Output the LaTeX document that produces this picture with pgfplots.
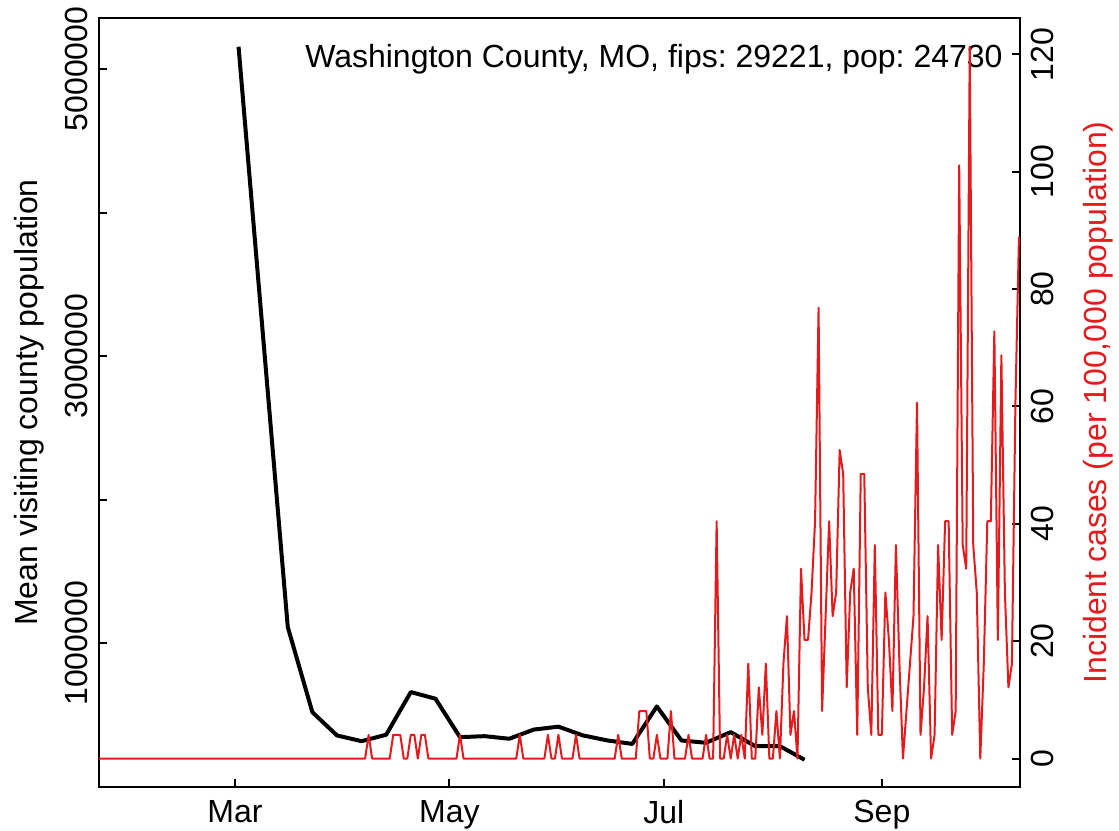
\documentclass[border=0pt]{standalone}
\usepackage{pgfplots}
\pgfplotsset{compat=1.18}
\usepackage{fontspec}
\setmainfont{Liberation Sans}
\definecolor{rred}{HTML}{E41A1C}
\frenchspacing
\begin{document}
\fontsize{16pt}{19pt}\selectfont
\begin{tikzpicture}
\begin{axis}[
  scale only axis, width=460.5pt, height=384.5pt,
  at={(0,0)}, anchor=south west,
  xmin=-38.7, xmax=223.3, ymin=0, ymax=5.355e6,
  axis line style={line width=1pt},
  every tick/.style={line width=1pt, black},
  tick align=inside, major tick length=4pt,
  tick pos=left,
  xtick={0,61,122,184}, xticklabels={Mar,May,Jul,Sep},
  ytick={1000000,2000000,3000000,4000000,5000000},
  yticklabels={1000000,,3000000,,5000000},
  yticklabel style={rotate=90, anchor=south},
  xticklabel style={yshift=-1pt},
  scaled y ticks=false,
  ylabel={Mean visiting county population},
  ylabel style={at={(axis description cs:-0.067,0.5)}, anchor=base},
  clip=true,
]
\addplot[black, line width=2pt, line join=round] coordinates {
(1,5155000) (8,3130000) (15,1114000) (22,521000) (29,359000) (36,319000)
(43,364000) (50,661000) (57,615000) (64,347000) (71,354000) (78,336000)
(85,400000) (92,420000) (99,359000) (106,324000) (113,300000) (120,561000)
(127,324000) (134,308000) (141,382000) (148,284000) (155,284000) (162,190000)
};
\node[anchor=base east, inner sep=0pt, font=\fontsize{16pt}{19pt}\selectfont] at (axis description cs:0.9815,0.935) {Washington County, MO, fips: 29221, pop: 24730};
\end{axis}
\begin{axis}[
  scale only axis, width=460.5pt, height=384.5pt,
  at={(0,0)}, anchor=south west,
  xmin=-38.7, xmax=223.3, ymin=-4.85, ymax=126.2,
  axis line style={line width=1pt},
  every tick/.style={line width=1pt, black},
  tick align=inside, major tick length=4pt,
  xtick=\empty,
  ytick pos=right, yticklabel pos=right,
  ytick={0,20,40,60,80,100,120},
  yticklabels={0,20,40,60,80,100,120},
  yticklabel style={rotate=90, anchor=north},
  ylabel={Incident cases (per 100,000 population)},
  ylabel style={at={(axis description cs:1.0934,0.5)}, anchor=base, color=rred},
]
\addplot[rred, line width=1pt, line join=round] coordinates {
(-39,0) (37,0) (38,4.04) (39,0) (44,0) (45,4.04) (46,4.04) (47,4.04) (48,0) (49,0)
(50,4.04) (51,4.04) (52,0) (53,4.04) (54,4.04) (55,0) (63,0) (64,4.04) (65,0)
(80,0) (81,4.04) (82,0) (88,0) (89,4.04) (90,0) (91,0) (92,4.04) (93,0) (96,0)
(97,4.04) (98,0) (108,0) (109,4.04) (110,0) (114,0) (115,8.09) (116,8.09) (117,8.09)
(118,0) (119,0) (120,4.04) (121,0) (123,0) (124,8.09) (125,0) (128,0) (129,4.04)
(130,0) (133,0) (134,4.04) (135,0) (136,0) (137,40.44) (138,0) (139,0) (140,4.04)
(141,0) (142,4.04) (143,0) (144,4.04) (145,0) (146,16.17) (147,0) (148,0) (149,12.13)
(150,4.04) (151,16.17) (152,0) (153,0) (154,8.09) (155,0) (156,16.17) (157,24.26)
(158,4.04) (159,8.09) (160,0) (161,32.35) (162,20.22) (163,20.22) (164,28.31)
(165,40.44) (166,76.83) (167,8.09) (168,24.26) (169,40.44) (170,24.26) (171,28.31)
(172,52.57) (173,48.52) (174,12.13) (175,28.31) (176,32.35) (177,4.04) (178,48.52)
(179,48.52) (180,12.13) (181,4.04) (182,36.39) (183,4.04) (184,4.04) (185,28.31)
(186,20.22) (187,8.09) (188,36.39) (189,16.17) (190,0) (191,8.09) (192,16.17)
(193,24.26) (194,60.66) (195,4.04) (196,12.13) (197,24.26) (198,0) (199,4.04)
(200,36.39) (201,20.22) (202,40.44) (203,40.44) (204,4.04) (205,8.09) (206,101.09)
(207,36.39) (208,32.35) (209,121.31) (210,36.39) (211,28.31) (212,0) (213,16.17)
(214,40.44) (215,40.44) (216,72.79) (217,20.22) (218,68.74) (219,28.31) (220,12.13)
(221,16.17) (222,60.66) (223,88.96)
};
\end{axis}
\pgfresetboundingbox
\path[use as bounding box] (-49.5pt,-21.5pt) rectangle (510pt,393.5pt);
\end{tikzpicture}
\end{document}
